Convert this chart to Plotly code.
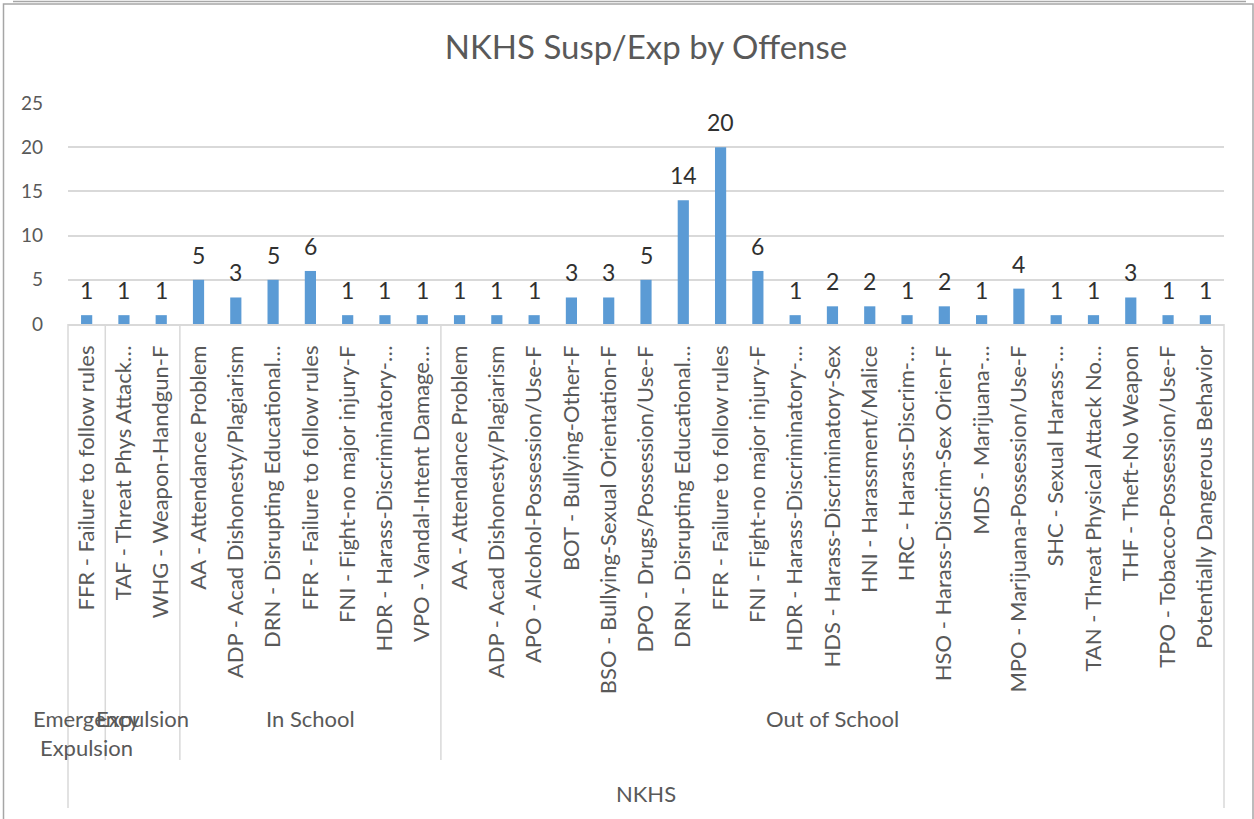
import plotly.graph_objects as go

# Data (NKHS suspensions/expulsions by offense)
emergency_labels = ["FFR - Failure to follow rules"]
emergency_counts = [1]

expulsion_labels = ["TAF - Threat Phys Attack…", "WHG - Weapon-Handgun-F"]
expulsion_counts = [1, 1]

in_school_labels = [
    "AA - Attendance Problem",
    "ADP - Acad Dishonesty/Plagiarism",
    "DRN - Disrupting Educational…",
    "FFR - Failure to follow rules",
    "FNI - Fight-no major injury-F",
    "HDR - Harass-Discriminatory-…",
    "VPO - Vandal-Intent Damage…",
]
in_school_counts = [5, 3, 5, 6, 1, 1, 1]

out_school_labels = [
    "AA - Attendance Problem",
    "ADP - Acad Dishonesty/Plagiarism",
    "APO - Alcohol-Possession/Use-F",
    "BOT - Bullying-Other-F",
    "BSO - Bullying-Sexual Orientation-F",
    "DPO - Drugs/Possession/Use-F",
    "DRN - Disrupting Educational…",
    "FFR - Failure to follow rules",
    "FNI - Fight-no major injury-F",
    "HDR - Harass-Discriminatory-…",
    "HDS - Harass-Discriminatory-Sex",
    "HNI - Harassment/Malice",
    "HRC - Harass-Discrim-…",
    "HSO - Harass-Discrim-Sex Orien-F",
    "MDS - Marijuana-…",
    "MPO - Marijuana-Possession/Use-F",
    "SHC - Sexual Harass-…",
    "TAN - Threat Physical Attack No…",
    "THF - Theft-No Weapon",
    "TPO - Tobacco-Possession/Use-F",
    "Potentially Dangerous Behavior",
]
out_school_counts = [1, 1, 1, 3, 3, 5, 14, 20, 6, 1, 2, 2, 1, 2, 1, 4, 1, 1, 3, 1, 1]

group_names = ["Emergency<br>Expulsion", "Expulsion", "In School", "Out of School"]
group_labels = [emergency_labels, expulsion_labels, in_school_labels, out_school_labels]
group_counts = [emergency_counts, expulsion_counts, in_school_counts, out_school_counts]
school_name = "NKHS"

labels = [l for g in group_labels for l in g]
counts = [c for g in group_counts for c in g]
xs = list(range(len(labels)))

FONT = "Lato"
GREY = "#595959"
LINE = "#d9d9d9"

fig = go.Figure()
fig.add_trace(go.Bar(
    x=xs, y=counts,
    marker=dict(color="#5b9bd5", line=dict(width=0)),
    width=0.3,
    hoverinfo="x+y",
))

# data labels above bars
annotations = []
for x, v in zip(xs, counts):
    annotations.append(dict(
        x=x, y=v, xref="x", yref="y", text=str(v), showarrow=False,
        yanchor="middle", yshift=25,
        font=dict(family=FONT, size=23, color="#303030"),
    ))

# group labels and separators (pixel rows converted to paper units)
plot_top, plot_bottom = 103, 324
ph = plot_bottom - plot_top


def py(p):
    return (plot_bottom - p) / ph


shapes = []
start = 0
for name, g in zip(group_names, group_labels):
    n = len(g)
    annotations.append(dict(
        x=start + (n - 1) / 2, y=py(703), xref="x", yref="paper", text=name,
        showarrow=False, yanchor="top", xanchor="center",
        font=dict(family=FONT, size=22, color=GREY),
    ))
    start += n
    if start < len(labels):
        shapes.append(dict(type="line", xref="x", yref="paper",
                           x0=start - 0.5, x1=start - 0.5, y0=0, y1=py(760),
                           line=dict(color=LINE, width=1.5)))

for edge in [0, 1]:
    shapes.append(dict(type="line", xref="x domain", yref="paper",
                       x0=edge, x1=edge, y0=0, y1=py(808),
                       line=dict(color=LINE, width=1.5)))

annotations.append(dict(
    x=(len(labels) - 1) / 2, y=py(793), xref="x", yref="paper", text=school_name,
    showarrow=False, yanchor="middle",
    font=dict(family=FONT, size=22, color=GREY),
))

# outer chart frame
shapes.append(dict(type="rect", xref="paper", yref="paper",
                   x0=(3.5 - 68) / 1156, x1=(1253 - 68) / 1156,
                   y0=py(900), y1=py(4),
                   line=dict(color="#a6a6a6", width=1.5)))
shapes.append(dict(type="line", xref="paper", yref="paper",
                   x0=(13 - 68) / 1156, x1=(1246 - 68) / 1156,
                   y0=py(1.5), y1=py(1.5),
                   line=dict(color="#a6a6a6", width=1.5)))

fig.update_layout(
    width=1254, height=819,
    margin=dict(l=68, r=30, t=plot_top, b=819 - plot_bottom),
    paper_bgcolor="white", plot_bgcolor="white",
    showlegend=False,
    title=dict(text="NKHS Susp/Exp by Offense", x=0.5, xref="paper", xanchor="center",
               y=1 - 47 / 819, yanchor="middle",
               font=dict(family=FONT, size=33, color=GREY)),
    font=dict(family=FONT, color=GREY),
    annotations=annotations,
    shapes=shapes,
    bargap=0.7,
)

fig.update_xaxes(
    range=[-0.5, len(labels) - 0.5],
    tickmode="array", tickvals=xs, ticktext=labels,
    tickangle=-90, ticks="", ticklabelstandoff=11,
    tickfont=dict(family=FONT, size=22, color=GREY),
    showgrid=False, zeroline=False,
    showline=True, linecolor=LINE, linewidth=1.5,
)
fig.update_yaxes(
    range=[0, 25], dtick=5, tick0=0,
    showgrid=True, gridcolor=LINE, gridwidth=1.5,
    zeroline=False, showline=False, ticks="",
    ticklabelstandoff=24,
    tickfont=dict(family=FONT, size=19, color=GREY),
)

# drop the browser's default page margin so the figure sits at the window's corner
fig.write_html("out.html", config={"displayModeBar": False},
               post_script="document.body.style.margin='0px';")
